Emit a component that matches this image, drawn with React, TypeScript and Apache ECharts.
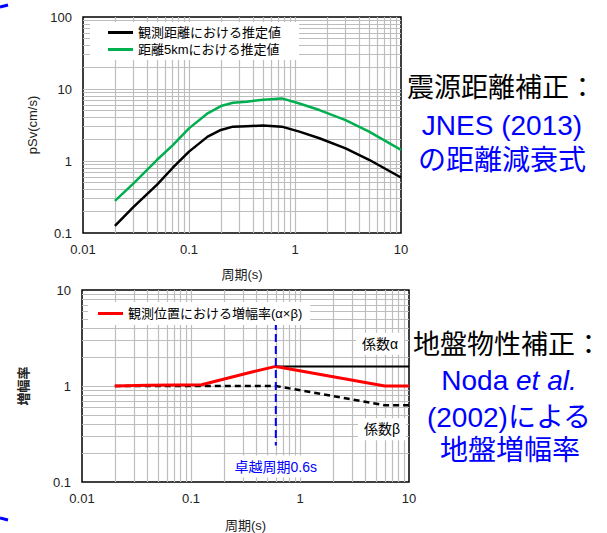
import React, { useEffect, useRef } from "react";
import * as echarts from "echarts";

// Upper panel: pseudo-velocity response spectra (pSv, cm/s)
const PERIODS = [0.02, 0.03, 0.05, 0.07, 0.1, 0.15, 0.2, 0.26, 0.35, 0.5, 0.75, 1.1, 1.7, 3, 5, 10];
const PSV_OBSERVED = [0.126, 0.23, 0.47, 0.8, 1.35, 2.18, 2.7, 3.0, 3.05, 3.1, 3.0, 2.56, 2.07, 1.5, 1.04, 0.59];
const PSV_5KM = [0.28, 0.49, 1.04, 1.65, 2.84, 4.6, 5.8, 6.45, 6.65, 7.1, 7.4, 6.3, 5.1, 3.7, 2.56, 1.43];

// Lower panel: site amplification
const AMP_PERIODS = [0.02, 0.04, 0.125, 0.37, 0.6, 6, 10];
const AMP_TOTAL = [1.0, 1.02, 1.03, 1.41, 1.6, 1.0, 1.0];
const ALPHA_PERIODS = [0.6, 10];
const ALPHA = [1.6, 1.6];
const BETA_PERIODS = [0.02, 0.6, 6, 10];
const BETA = [1.0, 1.0, 0.63, 0.63];
const PEAK_PERIOD = 0.6;
const PEAK_LINE_SPAN = [4.64, 0.24];

const NAME_OBS = "観測距離における推定値";
const NAME_5KM = "距離5kmにおける推定値";
const NAME_AMP = "観測位置における増幅率(α×β)";

const FONT = '"Liberation Sans", "Noto Sans CJK JP", sans-serif';
const GRID_COLOR = "#bdbdbd";

const pairs = (xs: number[], ys: number[]) => xs.map((x, i) => [x, ys[i]]);

// log-decade gridlines (1..9 × 10^n), excluding the plot edges
function logLines(lo: number, hi: number): number[] {
  const out: number[] = [];
  for (let e = Math.round(Math.log10(lo)); e < Math.round(Math.log10(hi)); e++) {
    for (let k = 1; k <= 9; k++) {
      const v = parseFloat((k * Math.pow(10, e)).toPrecision(6));
      if (v > lo && v < hi) out.push(v);
    }
  }
  return out;
}

function gridSeries(idx: number, xr: [number, number], yr: [number, number]) {
  return {
    type: "line",
    xAxisIndex: idx,
    yAxisIndex: idx,
    data: [],
    z: 1,
    silent: true,
    markLine: {
      z: 1,
      silent: true,
      symbol: ["none", "none"],
      label: { show: false },
      lineStyle: { color: GRID_COLOR, width: 1.2, type: "solid" },
      data: [
        ...logLines(xr[0], xr[1]).map((v) => ({ xAxis: v })),
        ...logLines(yr[0], yr[1]).map((v) => ({ yAxis: v })),
      ],
    },
  };
}

const fmt = (v: number) => String(parseFloat(v.toPrecision(6)));

function xAxis(idx: number, nameGap: number) {
  return {
    type: "log",
    logBase: 10,
    gridIndex: idx,
    min: 0.01,
    max: 10,
    name: "周期(s)",
    nameLocation: "middle",
    nameGap,
    nameTextStyle: { fontFamily: FONT, fontSize: 13, color: "#222" },
    axisLine: { show: false },
    axisTick: { show: false },
    splitLine: { show: false },
    axisLabel: { formatter: fmt, fontFamily: FONT, fontSize: 13, color: "#222", margin: 10 },
  };
}

function yAxis(idx: number, min: number, max: number, name: string, nameGap: number, bold: boolean) {
  return {
    type: "log",
    logBase: 10,
    gridIndex: idx,
    min,
    max,
    name,
    nameLocation: "middle",
    nameGap,
    nameTextStyle: { fontFamily: FONT, fontSize: 13, color: "#222", fontWeight: bold ? "bold" : "normal" },
    axisLine: { show: false },
    axisTick: { show: false },
    splitLine: { show: false },
    axisLabel: { formatter: fmt, fontFamily: FONT, fontSize: 13, color: "#222", margin: 11 },
  };
}

const noteLabel = (color: string) => ({
  show: true,
  position: "inside",
  formatter: "{b}",
  fontFamily: FONT,
  fontSize: 14,
  color,
  backgroundColor: "#fff",
  padding: [4, 6],
});

export default function App() {
  const ref = useRef<HTMLDivElement>(null);

  useEffect(() => {
    if (!ref.current) return;
    const chart = echarts.init(ref.current, undefined, { renderer: "svg" });

    const option = {
      animation: false,
      backgroundColor: "#fff",
      grid: [
        { left: 83, top: 17, width: 318, height: 216, show: true, borderColor: "#000", borderWidth: 1.5 },
        { left: 82, top: 290, width: 327, height: 200, show: true, borderColor: "#000", borderWidth: 1.5 },
      ],
      xAxis: [xAxis(0, 35), xAxis(1, 37)],
      yAxis: [yAxis(0, 0.1, 100, "pSv(cm/s)", 44, false), yAxis(1, 0.1, 10, "増幅率", 52, true)],
      legend: [
        {
          data: [NAME_OBS, NAME_5KM],
          orient: "vertical",
          left: 90,
          top: 22,
          padding: [4, 18, 4, 18],
          itemGap: 4,
          itemWidth: 25,
          itemHeight: 3,
          icon: "rect",
          backgroundColor: "#fff",
          textStyle: { fontFamily: FONT, fontSize: 13, color: "#000" },
          selectedMode: false,
          z: 6,
        },
        {
          data: [NAME_AMP],
          orient: "vertical",
          left: 88,
          top: 302,
          padding: [5, 8, 5, 10],
          itemWidth: 25,
          itemHeight: 3,
          icon: "rect",
          backgroundColor: "#fff",
          textStyle: { fontFamily: FONT, fontSize: 13, color: "#000" },
          selectedMode: false,
          z: 6,
        },
      ],
      series: [
        gridSeries(0, [0.01, 10], [0.1, 100]),
        gridSeries(1, [0.01, 10], [0.1, 10]),
        {
          name: NAME_OBS,
          type: "line",
          xAxisIndex: 0,
          yAxisIndex: 0,
          data: pairs(PERIODS, PSV_OBSERVED),
          symbol: "none",
          color: "#000",
          lineStyle: { color: "#000", width: 2.5 },
          z: 3,
        },
        {
          name: NAME_5KM,
          type: "line",
          xAxisIndex: 0,
          yAxisIndex: 0,
          data: pairs(PERIODS, PSV_5KM),
          symbol: "none",
          color: "#00B050",
          lineStyle: { color: "#00B050", width: 2.5 },
          z: 3,
        },
        {
          name: "係数α",
          type: "line",
          xAxisIndex: 1,
          yAxisIndex: 1,
          data: pairs(ALPHA_PERIODS, ALPHA),
          symbol: "none",
          color: "#000",
          lineStyle: { color: "#000", width: 2 },
          z: 3,
          markPoint: {
            symbol: "rect",
            symbolSize: 0,
            label: noteLabel("#000"),
            data: [{ name: "係数α", coord: [5.42, 2.75] }],
          },
        },
        {
          name: "係数β",
          type: "line",
          xAxisIndex: 1,
          yAxisIndex: 1,
          data: pairs(BETA_PERIODS, BETA),
          symbol: "none",
          color: "#000",
          lineStyle: { color: "#000", width: 2.5, type: [6, 4] },
          z: 3,
          markPoint: {
            symbol: "rect",
            symbolSize: 0,
            label: noteLabel("#000"),
            data: [{ name: "係数β", coord: [5.65, 0.355] }],
          },
        },
        {
          name: NAME_AMP,
          type: "line",
          xAxisIndex: 1,
          yAxisIndex: 1,
          data: pairs(AMP_PERIODS, AMP_TOTAL),
          symbol: "none",
          color: "#FF0000",
          lineStyle: { color: "#FF0000", width: 3 },
          z: 4,
        },
        {
          name: "卓越周期",
          type: "line",
          xAxisIndex: 1,
          yAxisIndex: 1,
          data: PEAK_LINE_SPAN.map((v) => [PEAK_PERIOD, v]),
          symbol: "none",
          color: "#0000FF",
          lineStyle: { color: "#0000FF", width: 2, type: [8, 4] },
          z: 5,
          markPoint: {
            symbol: "rect",
            symbolSize: 0,
            label: noteLabel("#0000FF"),
            data: [{ name: `卓越周期${PEAK_PERIOD}s`, coord: [PEAK_PERIOD, 0.145] }],
          },
        },
      ],
      graphic: [
        {
          type: "text",
          left: 407,
          top: 74,
          style: { text: "震源距離補正：", fontFamily: FONT, fontSize: 27, fill: "#000" },
        },
        {
          type: "text",
          x: 502,
          y: 125,
          style: { text: "JNES (2013)", fontFamily: FONT, fontSize: 28, fill: "#0000FF", align: "center", verticalAlign: "middle" },
        },
        {
          type: "text",
          x: 502,
          y: 160,
          style: { text: "の距離減衰式", fontFamily: FONT, fontSize: 28, fill: "#0000FF", align: "center", verticalAlign: "middle" },
        },
        {
          type: "text",
          left: 413,
          top: 331,
          style: { text: "地盤物性補正：", fontFamily: FONT, fontSize: 27, fill: "#000" },
        },
        {
          type: "text",
          x: 509,
          y: 380,
          style: {
            text: "{a|Noda }{b|et al.}",
            align: "center",
            verticalAlign: "middle",
            rich: {
              a: { fontFamily: FONT, fontSize: 28, fill: "#0000FF", color: "#0000FF" },
              b: { fontFamily: FONT, fontSize: 28, fill: "#0000FF", color: "#0000FF", fontStyle: "italic" },
            },
          },
        },
        {
          type: "text",
          x: 509,
          y: 417,
          style: { text: "(2002)による", fontFamily: FONT, fontSize: 28, fill: "#0000FF", align: "center", verticalAlign: "middle" },
        },
        {
          type: "text",
          x: 510,
          y: 450,
          style: { text: "地盤増幅率", fontFamily: FONT, fontSize: 28, fill: "#0000FF", align: "center", verticalAlign: "middle" },
        },
        // bracket ends at the left margin
        {
          type: "polyline",
          shape: { points: [[0, 7], [8, 5]] },
          style: { stroke: "#0000FF", lineWidth: 3, fill: "none" },
        },
        {
          type: "polyline",
          shape: { points: [[0, 518], [8, 520]] },
          style: { stroke: "#0000FF", lineWidth: 3, fill: "none" },
        },
      ],
    };

    chart.setOption(option as any);
    return () => chart.dispose();
  }, []);

  return (
    <div
      ref={ref}
      style={{ position: "absolute", left: 0, top: 0, width: 607, height: 533 }}
    />
  );
}
